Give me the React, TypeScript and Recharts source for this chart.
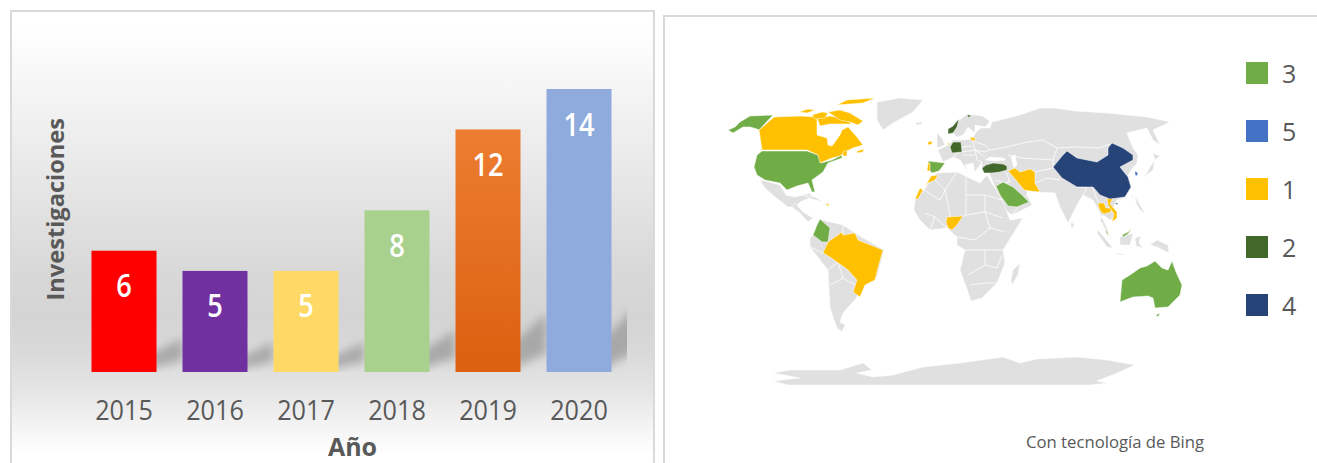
import { Bar, BarChart, Cell, LabelList, Scatter, ScatterChart, XAxis, YAxis } from 'recharts';

const FONT = '"Open Sans", sans-serif';
const TEXT_GREY = '#595959';

// left chart
const years = ['2015', '2016', '2017', '2018', '2019', '2020'];
const investigaciones = [6, 5, 5, 8, 12, 14];
const barColors = ['#ff0000', '#7030a0', '#ffd966', '#a9d18e', 'url(#orangeBar)', '#8faadc'];
const barData = years.map((year, i) => ({ year, count: investigaciones[i] }));

// right chart, legend order as in the picture
const legendLabels = ['3', '5', '1', '2', '4'];
const legendColors = ['#70ad47', '#4472c4', '#ffc000', '#43682b', '#264478'];
const LAND = '#e0e0e0';

// map outlines, flat x,y lists in map units
const greyLand = [
  [877,102,900,98,923,100,913,112,893,123,883,130,877,120],
  [915,123,922,122,922,124,917,125],
  [937,133,942,138,945,145,937,148,937,143],
  [948,131,955,124,967,114,982,116,990,121,985,127,975,125,975,133,968,127,963,135,957,137,953,133],
  [943,162,938,150,948,145,953,140,962,140,972,139,977,131,981,128,990,128,992,122,1020,115,1040,108,1055,108,1075,111,1107,113,1147,117,1170,122,1153,130,1160,145,1153,140,1147,128,1127,133,1133,148,1138,155,1137,163,1131,170,1128,176,1131,187,1123,198,1117,200,1113,208,1117,217,1110,220,1103,215,1100,220,1112,242,1106,226,1100,213,1093,200,1083,195,1077,205,1068,223,1060,207,1055,193,1037,192,1027,190,1027,195,1032,205,1012,215,1003,208,995,187,987,168,982,168,982,162,975,172,973,163,965,165,968,172,960,160,953,157],
  [914,210,920,220,930,230,947,228,957,237,957,245,965,250,960,270,968,292,971,301,982,298,997,283,1005,263,1003,250,1023,218,1010,220,1002,200,987,175,980,183,957,172,937,173,933,177,924,190,915,200],
  [1020,263,1018,275,1012,285,1011,280,1013,270],
  [760,180,765,181,780,185,786,195,795,197,810,193,812,197,800,202,795,207,788,207,775,197,765,188,761,182],
  [795,203,803,212,813,218,808,222,800,213,792,207],
  [803,195,815,197,823,202,812,199],
  [822,220,843,225,858,235,884,250,877,277,863,287,855,300,852,303,843,313,840,322,845,325,842,332,837,328,833,317,830,307,828,270,810,247,810,238,815,233],
  [773,373,790,370,840,370,863,363,872,370,857,373,873,377,893,375,923,367,960,363,1003,357,1020,363,1037,359,1077,357,1107,360,1135,365,1117,373,1097,381,1108,383,1090,385,788,385,773,381,800,378],
  [1157,240,1168,245,1169,253,1157,247,1150,245],
  [1098,230,1113,248,1107,247,1097,233],
  [1113,252,1127,255,1120,255],
  [1120,237,1133,233,1130,245,1120,245],
  [1135,238,1141,236,1139,243,1143,248,1136,246],
  [1155,160,1153,170,1143,178,1147,173,1150,167],
  [1153,153,1160,156,1155,160],
  [1135,196,1139,203,1145,214,1140,210,1136,203],
  [1071,222,1074,224,1073,228,1071,227],
];
const waterCutouts = [
  [985,160,990,157,1003,158,1006,160,995,161],
  [1011,157,1015,155,1017,165,1014,168],
];
const borderLines = [
  [975,142,985,145,990,150,1007,147,1027,142,1043,140,1057,148,1077,147,1100,148,1112,143],
  [1008,155,1023,158,1053,160],
  [1057,148,1053,160,1053,168],
  [1035,172,1053,168],
  [1035,183,1048,178,1060,180],
  [1077,187,1087,188,1083,195],
  [1093,187,1097,200,1104,212],
  [972,139,975,150,985,152,990,150],
  [948,145,960,152,953,157],
  [962,152,975,150,977,160,982,162],
  [962,147,972,146],
  [963,155,975,155],
  [975,150,985,157],
  [1006,172,1010,182,1003,183,996,180],
  [1027,195,1018,207,1012,215],
  [924,190,940,200,945,190,957,172],
  [933,178,945,190],
  [945,190,950,215,947,228],
  [966,175,966,215,963,216],
  [966,195,985,195,1002,200],
  [966,215,985,212,1003,218],
  [985,195,985,212,990,228,1005,232],
  [957,237,975,240,990,228],
  [965,250,985,250,1003,250],
  [985,250,985,265,997,268,1002,255],
  [968,275,985,265],
  [970,285,985,283,997,283],
  [925,213,935,217,947,228],
  [930,230,935,217],
  [810,247,823,253],
  [828,270,838,262,848,270],
  [838,262,843,278,855,285],
  [830,285,843,278],
  [843,225,843,235],
];
const level3 = [
  [728,130,735,127,740,122,750,116,773,115,759,130,757,129,750,127,743,127,733,133],
  [762,151,807,151,818,155,821,163,832,160,842,155,842,158,828,163,823,172,812,180,815,192,812,192,808,183,797,186,787,190,780,183,765,180,757,175,754,167,757,155],
  [820,219,830,228,828,242,822,242,813,235,817,225],
  [928,161,945,163,939,171,932,173,930,171],
  [996,186,1003,182,1013,187,1022,195,1029,202,1017,207,1008,206,1000,195],
  [1120,302,1122,280,1130,275,1140,268,1147,266,1155,261,1162,268,1168,270,1172,261,1176,272,1182,285,1180,295,1168,307,1155,308,1153,298,1148,296,1133,297],
  [1156,315,1160,313,1158,317],
  [1105,228,1108,233,1107,235],
  [1122,235,1128,232,1132,228,1128,234,1123,237],
  [1132,195,1133,197,1132,197],
];
const level5 = [[1135,171,1138,173,1137,176,1135,175]];
const level1 = [
  [774,117,800,116,817,117,817,135,827,138,828,145,832,146,840,135,842,130,848,127,857,137,863,145,853,148,847,151,840,156,832,158,820,163,818,155,807,150,762,150,759,130],
  [817,118,830,116,845,119,852,124,843,124,830,124,820,126],
  [799,112,808,109,815,110,807,113],
  [812,115,822,112,828,113,825,118,815,119],
  [828,112,840,110,850,113,863,121,858,125,850,122,840,120],
  [837,105,847,100,875,98,863,103,850,104],
  [857,151,864,149,863,152,857,153],
  [843,152,847,150,847,156,843,156],
  [842,232,843,235,855,233,858,240,883,250,878,268,875,280,865,285,860,297,853,292,857,280,848,270,830,257,823,253,828,242,835,237],
  [826,203,830,205,827,206],
  [928,142,932,141,932,144,928,145],
  [928,163,930,163,930,171,927,171],
  [938,175,935,180,928,183,924,188,930,178,931,176],
  [920,188,923,190,918,199,915,199],
  [947,217,963,216,957,225,952,230,948,228,946,222],
  [970,137,975,138,975,141,971,140],
  [947,143,949,143,949,146],
  [1008,171,1015,168,1020,172,1030,169,1035,172,1035,183,1040,192,1030,191,1024,190,1016,180],
  [1098,203,1104,203,1106,208,1111,208,1111,212,1104,214,1101,212,1099,208],
  [1107,197,1113,198,1110,204,1117,212,1117,218,1112,222,1114,214,1108,205],
  [1102,222,1104,225,1103,225],
];
const level2 = [
  [948,134,948,129,953,126,957,121,959,119,957,127,953,133],
  [967,115,971,115,969,118],
  [953,142,961,142,962,152,952,153,950,147],
  [982,168,986,165,993,163,1003,164,1007,166,1007,170,1000,172,992,173,984,173],
];
const level4 = [
  [1053,167,1063,155,1067,151,1077,158,1097,162,1108,155,1108,148,1112,143,1123,148,1133,155,1133,160,1120,167,1128,177,1131,187,1125,197,1110,199,1100,195,1093,187,1077,187,1062,178],
  [1115,203,1118,203,1117,205],
];

const toPoints = (flat: number[]) => {
  const pts: { x: number; y: number }[] = [];
  for (let i = 0; i < flat.length; i += 2) pts.push({ x: flat[i], y: flat[i + 1] });
  return pts;
};

const toPath = (points: { x: number; y: number }[], close: boolean) =>
  points.map((p, i) => `${i ? 'L' : 'M'}${p.x} ${p.y}`).join('') + (close ? 'Z' : '');

const closedShape = (fill: string) => (props: any) => (
  <path d={toPath(props.points, true)} fill={fill} stroke="#ffffff" strokeWidth={0.5} strokeLinejoin="round" />
);
const borderShape = (props: any) => (
  <path d={toPath(props.points, false)} fill="none" stroke="#ffffff" strokeWidth={0.8} />
);
const noDot = () => <g />;

// soft slanted shadow behind each bar, then the bar itself
function ShadowBar(props: any) {
  const { x, y, width, height, fill } = props;
  const base = y + height;
  const right = x + width;
  const shadow = `M${right - 10} ${base - 3}L${right + 26} ${base - 4 - height * 0.06}L${right + 26} ${base - height * 0.2 - 10}L${right - 10} ${base - height * 0.1 - 3}Z`;
  return (
    <g>
      <g clipPath="url(#shadowClip)">
        <path d={shadow} fill="#8f8f8f" fillOpacity={0.65} filter="url(#shadowBlur)" />
      </g>
      <rect x={x} y={y} width={width} height={height} fill={fill} />
    </g>
  );
}

// the original picture is squeezed sideways, so the digits are scaled the same way
function YearTick(props: any) {
  const { x, y, payload } = props;
  return (
    <text transform={`translate(${x},${y + 40}) scale(0.9,1)`} textAnchor="middle" fontSize={28} fill={TEXT_GREY}>
      {payload.value}
    </text>
  );
}

function BarValue(props: any) {
  const { x, y, width, value } = props;
  return (
    <text transform={`translate(${x + width / 2},${y + 46.5}) scale(0.85,1)`} textAnchor="middle" fontSize={32} fontWeight={600} fill="#ffffff">
      {value}
    </text>
  );
}

function YearsChart() {
  return (
    <div
      style={{
        position: 'absolute',
        left: 10,
        top: 10,
        width: 645,
        height: 453,
        boxSizing: 'border-box',
        borderTop: '2px solid #d9d9d9',
        borderLeft: '2px solid #d9d9d9',
        borderRight: '2px solid #d9d9d9',
        background: 'linear-gradient(180deg, #ffffff 3%, #ececec 30%, #d8d8d8 58%, #d4d4d4 68%, #dadada 76%, #e7e7e7 85%, #ffffff 98%)',
      }}
    >
      <BarChart width={641} height={451} data={barData} margin={{ top: 77, right: 28.5, left: 20, bottom: 0 }} style={{ fontFamily: FONT }}>
        <defs>
          <linearGradient id="orangeBar" x1="0" y1="0" x2="0" y2="1">
            <stop offset="0%" stopColor="#ed7d31" />
            <stop offset="100%" stopColor="#db600f" />
          </linearGradient>
          <filter id="shadowBlur" x="-40%" y="-40%" width="180%" height="180%">
            <feGaussianBlur stdDeviation="5" />
          </filter>
          <clipPath id="shadowClip" clipPathUnits="userSpaceOnUse">
            <rect x={0} y={0} width={615} height={360} />
          </clipPath>
        </defs>
        <XAxis
          dataKey="year"
          height={91}
          axisLine={false}
          tickLine={false}
          interval={0}
          tick={YearTick}
          label={{ value: 'Año', position: 'insideBottom', offset: 7, dx: 1, fontSize: 25, fontWeight: 700, fill: TEXT_GREY }}
        />
        <YAxis
          domain={[0, 14]}
          width={46.5}
          axisLine={false}
          tickLine={false}
          tick={false}
          label={{ value: 'Investigaciones', angle: -90, position: 'insideLeft', dx: 19, dy: 70, fontSize: 23.6, fontWeight: 700, fill: TEXT_GREY }}
        />
        <Bar dataKey="count" barSize={65} shape={ShadowBar} isAnimationActive={false}>
          {barData.map((d, i) => (
            <Cell key={d.year} fill={barColors[i]} />
          ))}
          <LabelList dataKey="count" content={BarValue} />
        </Bar>
      </BarChart>
    </div>
  );
}

function polygons(list: number[][], prefix: string, line: (props: any) => any) {
  return list.map((flat, i) => (
    <Scatter
      key={prefix + i}
      data={toPoints(flat)}
      line={line}
      shape={noDot}
      fill="none"
      isAnimationActive={false}
    />
  ));
}

function WorldMap() {
  return (
    <div
      style={{
        position: 'absolute',
        left: 663,
        top: 15,
        width: 654,
        height: 448,
        boxSizing: 'border-box',
        borderTop: '2px solid #d9d9d9',
        borderLeft: '2px solid #d9d9d9',
        background: '#ffffff',
      }}
    >
      <ScatterChart width={652} height={446} margin={{ top: 0, right: 0, bottom: 0, left: 0 }}>
        <XAxis type="number" dataKey="x" domain={[665, 1317]} hide />
        <YAxis type="number" dataKey="y" domain={[17, 463]} reversed hide />
        {polygons(greyLand, 'land', closedShape(LAND))}
        {polygons(waterCutouts, 'water', closedShape('#ffffff'))}
        {polygons(borderLines, 'border', borderShape)}
        {polygons(level3, 'l3', closedShape(legendColors[0]))}
        {polygons(level5, 'l5', closedShape(legendColors[1]))}
        {polygons(level1, 'l1', closedShape(legendColors[2]))}
        {polygons(level2, 'l2', closedShape(legendColors[3]))}
        {polygons(level4, 'l4', closedShape(legendColors[4]))}
      </ScatterChart>
      {legendLabels.map((label, i) => (
        <div key={label} style={{ position: 'absolute', left: 581, top: 45 + i * 58.1, height: 22, display: 'flex', alignItems: 'center' }}>
          <span style={{ width: 22, height: 22, background: legendColors[i], display: 'block' }} />
          <span style={{ marginLeft: 14, fontFamily: FONT, fontSize: 25, color: TEXT_GREY }}>{label}</span>
        </div>
      ))}
      <span style={{ position: 'absolute', left: 361, top: 413, fontFamily: FONT, fontSize: 16.7, color: TEXT_GREY, whiteSpace: 'nowrap' }}>
        Con tecnología de Bing
      </span>
    </div>
  );
}

export default function App() {
  return (
    <div style={{ position: 'absolute', left: 0, top: 0, width: 1317, height: 463, overflow: 'hidden', background: '#ffffff', fontFamily: FONT }}>
      <YearsChart />
      <WorldMap />
    </div>
  );
}
